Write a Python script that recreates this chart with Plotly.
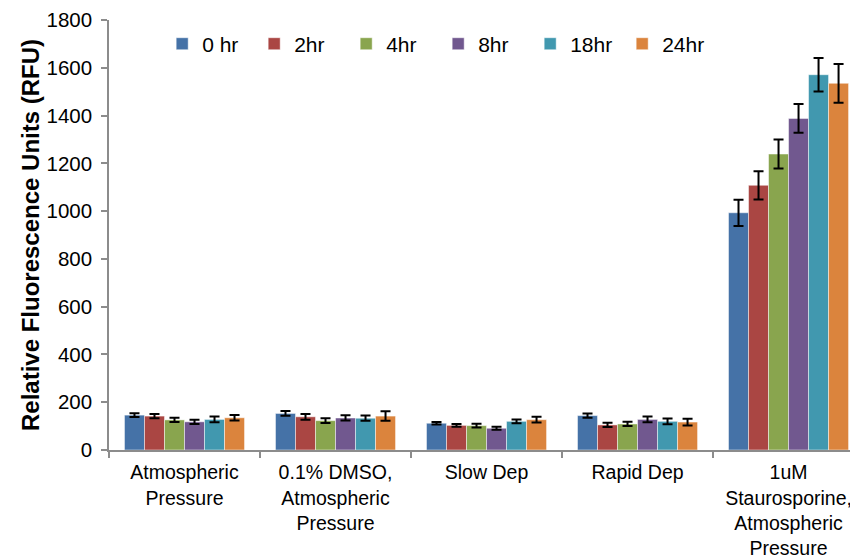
import plotly.graph_objects as go

categories = ["Atmospheric<br>Pressure", "0.1% DMSO,<br>Atmospheric<br>Pressure", "Slow Dep", "Rapid Dep",
              "1uM<br>Staurosporine,<br>Atmospheric<br>Pressure"]
series_names = ["0 hr", "2hr", "4hr", "8hr", "18hr", "24hr"]
values = {
    "0 hr": [146, 153, 112, 144, 993],
    "2hr":  [142, 139, 103, 105, 1108],
    "4hr":  [126, 123, 102, 109, 1239],
    "8hr":  [118, 134, 91, 128, 1388],
    "18hr": [128, 133, 120, 120, 1571],
    "24hr": [135, 142, 127, 117, 1535],
}
errors = {
    "0 hr": [8, 10, 5, 9, 55],
    "2hr":  [9, 12, 6, 9, 59],
    "4hr":  [9, 10, 8, 9, 61],
    "8hr":  [9, 11, 6, 12, 60],
    "18hr": [12, 11, 8, 12, 70],
    "24hr": [12, 20, 12, 14, 81],
}
colors = ["#4572A7", "#AA4643", "#89A54E", "#71588F", "#4198AF", "#DB843D"]

fig = go.Figure()
for name, col in zip(series_names, colors):
    fig.add_trace(go.Bar(
        x=categories, y=values[name], name=name,
        marker=dict(color=col, line=dict(color="rgba(255,255,255,0.6)", width=0.8)),
        error_y=dict(type="data", array=errors[name], visible=True, color="black", thickness=2, width=5),
    ))

font_family = "Liberation Sans, Arial, sans-serif"
fig.update_layout(
    width=850, height=551,
    margin=dict(l=101, r=0, t=12, b=109, pad=0, autoexpand=False),
    barmode="group", bargap=0.205, bargroupgap=0,
    plot_bgcolor="white", paper_bgcolor="white",
    font=dict(family=font_family, color="black", size=20),
    showlegend=True,
    legend=dict(orientation="h", x=0.071, y=0.944, xanchor="left", yanchor="middle",
                font=dict(size=21), bgcolor="rgba(0,0,0,0)", entrywidth=47, itemwidth=30,
                traceorder="normal"),
)
fig.update_xaxes(
    type="category", range=[-0.5, 4.46], showline=True, linecolor="#8C8C8C", linewidth=1.5,
    ticks="outside", tickson="boundaries", ticklen=6, tickcolor="#8C8C8C", tickwidth=1.5,
    showgrid=False, tickfont=dict(size=19.5), fixedrange=True, ticklabelstandoff=4,
)
fig.update_yaxes(
    range=[0, 1800], dtick=200, showline=True, linecolor="#8C8C8C", linewidth=1.5,
    ticks="outside", ticklen=6, tickcolor="#8C8C8C", tickwidth=1.5, showgrid=False,
    zeroline=False, tickfont=dict(size=20.5), ticklabeloverflow="allow", ticklabelstandoff=5,
    title=dict(text="<b>Relative Fluorescence Units (RFU)</b>", font=dict(size=24), standoff=0),
)

fig.write_html("out.html")
